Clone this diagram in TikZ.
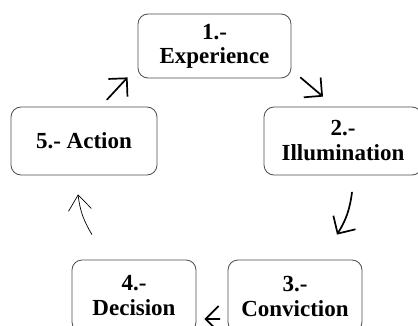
\documentclass[tikz,border=0pt]{standalone}
\usepackage{fontspec}
\setmainfont{Liberation Serif}
\usetikzlibrary{arrows.meta,calc}
\begin{document}
\begin{tikzpicture}[x=1pt,y=1pt,
 box/.style={draw=black!70, line width=0.8pt, rounded corners=10pt, align=center,
   font=\fontsize{23}{25}\selectfont\bfseries, inner sep=0pt},
 flow/.style={line width=1.7pt, line cap=round, line join=round, -{Straight Barb[angle'=90,length=13pt]}},
 thinflow/.style={line width=0.7pt, -{Straight Barb[angle'=75,length=15pt]}}]
\useasboundingbox (0,0) rectangle (418,325);
\clip (0,0) rectangle (418,325);
\node[box, minimum width=153pt, minimum height=64pt] (n1) at (214.5,279) {\raisebox{-3pt}{\begin{tabular}{@{}c@{}}1.-\\[-1pt]Experience\end{tabular}}};
\node[box, minimum width=158pt, minimum height=68pt] (n2) at (343,184) {2.-\\Illumination};
\node[box, minimum width=134pt, minimum height=72pt] (n3) at (295,29) {3.-\\Conviction};
\node[box, minimum width=124pt, minimum height=72pt] (n4) at (134,29) {4.-\\Decision};
\node[box, minimum width=146pt, minimum height=68pt] (n5) at (84,184) {5.- Action};
\draw[flow] ($(n1.south east)+(9,1)$) -- ($(n2.north)+(-20,10)$);
\draw[flow] ($(n2.south)+(9,-17)$) to[bend left=12] ($(n3.north)+(42,25)$);
\draw[flow] ($(n3.west)+(-8,-23)$) -- ($(n4.east)+(8,-23)$);
\draw[thinflow] ($(n4.north)+(-42,25)$) to[bend left=12] ($(n5.south)+(-6,-19)$);
\draw[flow] ($(n5.north)+(23,7)$) -- ($(n1.south west)+(-10,1)$);
\end{tikzpicture}
\end{document}
